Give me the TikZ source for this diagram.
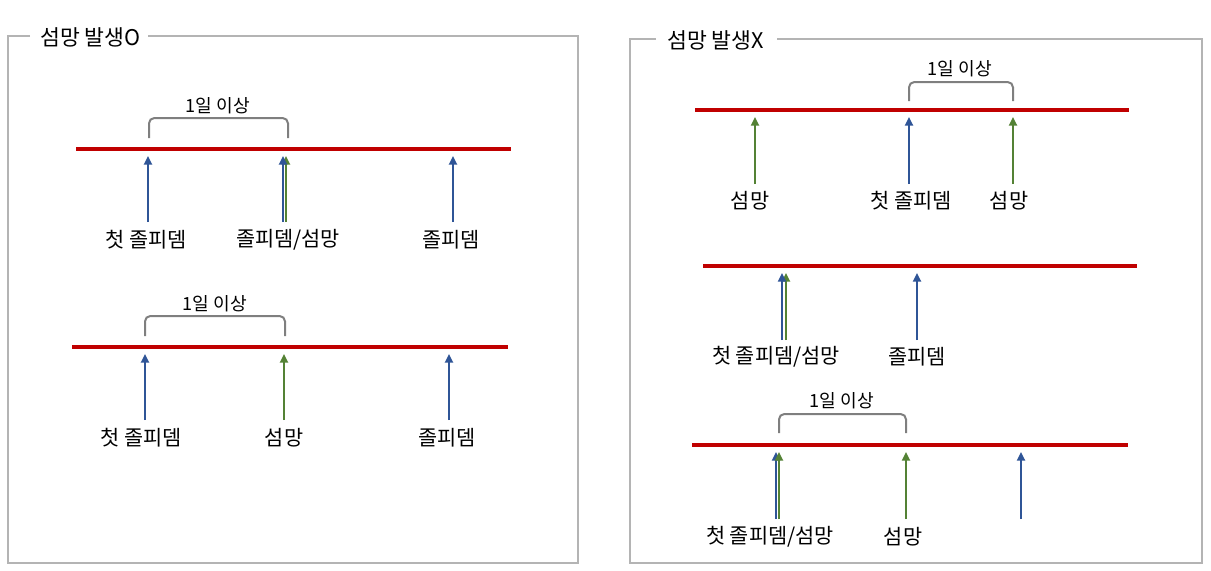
\documentclass[tikz,border=0pt]{standalone}
\usepackage{fontspec}
\setmainfont{Noto Sans CJK KR}
\usetikzlibrary{arrows.meta}
\definecolor{tlred}{HTML}{C00000}
\definecolor{zblue}{HTML}{2F5597}
\definecolor{dgreen}{HTML}{548235}
\definecolor{frm}{HTML}{B4B4B4}
\definecolor{brk}{HTML}{7F7F7F}
\tikzset{
  frameline/.style={draw=frm, line width=1.6pt},
  frametitle/.style={anchor=west, inner sep=0pt, font=\fontsize{16.2}{18}\selectfont},
  timeline/.style={draw=tlred, line width=2.7pt},
  zarrow/.style={draw=zblue, line width=1.6pt, -{Triangle[width=6pt,length=6.5pt]}},
  darrow/.style={draw=dgreen, line width=1.6pt, -{Triangle[width=6pt,length=6.5pt]}},
  bracketline/.style={draw=brk, line width=1.5pt, rounded corners=4pt},
  bracketlabel/.style={inner sep=0pt, font=\fontsize{13.6}{15}\selectfont},
  evlabel/.style={inner sep=0pt, font=\fontsize{15.6}{18}\selectfont},
}
\begin{document}
\begin{tikzpicture}[x=0.75pt,y=-0.75pt]
\useasboundingbox (0,0) rectangle (1211,571);
% ---------- left frame ----------
\coordinate (L1) at (30,36);
\coordinate (L2) at (8,36);
\coordinate (L3) at (8,563);
\coordinate (L4) at (578,563);
\coordinate (L5) at (578,36);
\coordinate (L6) at (148,36);
\draw[frameline] (L1) -- (L2) -- (L3) -- (L4) -- (L5) -- (L6);
\node[frametitle] (ltitle) at (40,37) {섬망 발생O};
% ---------- right frame ----------
\coordinate (R1) at (656,39);
\coordinate (R2) at (630,39);
\coordinate (R3) at (630,563);
\coordinate (R4) at (1202,563);
\coordinate (R5) at (1202,39);
\coordinate (R6) at (777,39);
\draw[frameline] (R1) -- (R2) -- (R3) -- (R4) -- (R5) -- (R6);
\node[frametitle] (rtitle) at (667,40) {섬망 발생X};

% ===== Left timeline 1 =====
\coordinate (a1s) at (76,149); \coordinate (a1e) at (511,149);
\draw[timeline] (a1s) -- (a1e);
\coordinate (a1b1) at (149,138); \coordinate (a1b2) at (149,118);
\coordinate (a1b3) at (288,118); \coordinate (a1b4) at (288,138);
\draw[bracketline] (a1b1) -- (a1b2) -- (a1b3) -- (a1b4);
\node[bracketlabel] (a1lab) at (218,106) {1일 이상};
\coordinate (a1t1) at (148,222); \coordinate (a1h1) at (148,156);
\coordinate (a1t2) at (283,222); \coordinate (a1h2) at (283,156);
\coordinate (a1t3) at (286,222); \coordinate (a1h3) at (286,156);
\coordinate (a1t4) at (453,222); \coordinate (a1h4) at (453,156);
\draw[zarrow] (a1t1) -- (a1h1);
\draw[darrow] (a1t3) -- (a1h3);
\draw[zarrow] (a1t2) -- (a1h2);
\draw[zarrow] (a1t4) -- (a1h4);
\node[evlabel] (a1n1) at (146,240) {첫 졸피뎀};
\node[evlabel] (a1n2) at (288,240) {졸피뎀/섬망};
\node[evlabel] (a1n3) at (451,240) {졸피뎀};

% ===== Left timeline 2 =====
\coordinate (a2s) at (72,347); \coordinate (a2e) at (508,347);
\draw[timeline] (a2s) -- (a2e);
\coordinate (a2b1) at (145,336); \coordinate (a2b2) at (145,316);
\coordinate (a2b3) at (285,316); \coordinate (a2b4) at (285,336);
\draw[bracketline] (a2b1) -- (a2b2) -- (a2b3) -- (a2b4);
\node[bracketlabel] (a2lab) at (215,304) {1일 이상};
\coordinate (a2t1) at (145,420); \coordinate (a2h1) at (145,354);
\coordinate (a2t2) at (284,420); \coordinate (a2h2) at (284,354);
\coordinate (a2t3) at (449,420); \coordinate (a2h3) at (449,354);
\draw[zarrow] (a2t1) -- (a2h1);
\draw[darrow] (a2t2) -- (a2h2);
\draw[zarrow] (a2t3) -- (a2h3);
\node[evlabel] (a2n1) at (141,438) {첫 졸피뎀};
\node[evlabel] (a2n2) at (284,438) {섬망};
\node[evlabel] (a2n3) at (447,438) {졸피뎀};

% ===== Right timeline 1 =====
\coordinate (b1s) at (695,110); \coordinate (b1e) at (1129,110);
\draw[timeline] (b1s) -- (b1e);
\coordinate (b1b1) at (909,101); \coordinate (b1b2) at (909,82);
\coordinate (b1b3) at (1013,82); \coordinate (b1b4) at (1013,101);
\draw[bracketline] (b1b1) -- (b1b2) -- (b1b3) -- (b1b4);
\node[bracketlabel] (b1lab) at (960,69) {1일 이상};
\coordinate (b1t1) at (755,184); \coordinate (b1h1) at (755,117);
\coordinate (b1t2) at (909,184); \coordinate (b1h2) at (909,117);
\coordinate (b1t3) at (1013,184); \coordinate (b1h3) at (1013,117);
\draw[darrow] (b1t1) -- (b1h1);
\draw[zarrow] (b1t2) -- (b1h2);
\draw[darrow] (b1t3) -- (b1h3);
\node[evlabel] (b1n1) at (750,201) {섬망};
\node[evlabel] (b1n2) at (911,201) {첫 졸피뎀};
\node[evlabel] (b1n3) at (1009,201) {섬망};

% ===== Right timeline 2 =====
\coordinate (b2s) at (703,266); \coordinate (b2e) at (1137,266);
\draw[timeline] (b2s) -- (b2e);
\coordinate (b2t1) at (782,340); \coordinate (b2h1) at (782,273);
\coordinate (b2t2) at (786,340); \coordinate (b2h2) at (786,273);
\coordinate (b2t3) at (917,340); \coordinate (b2h3) at (917,273);
\draw[darrow] (b2t2) -- (b2h2);
\draw[zarrow] (b2t1) -- (b2h1);
\draw[zarrow] (b2t3) -- (b2h3);
\node[evlabel] (b2n1) at (776,357) {첫 졸피뎀/섬망};
\node[evlabel] (b2n2) at (917,357) {졸피뎀};

% ===== Right timeline 3 =====
\coordinate (b3s) at (692,445); \coordinate (b3e) at (1128,445);
\draw[timeline] (b3s) -- (b3e);
\coordinate (b3b1) at (779,433); \coordinate (b3b2) at (779,414);
\coordinate (b3b3) at (906,414); \coordinate (b3b4) at (906,433);
\draw[bracketline] (b3b1) -- (b3b2) -- (b3b3) -- (b3b4);
\node[bracketlabel] (b3lab) at (842,401) {1일 이상};
\coordinate (b3t1) at (776,519); \coordinate (b3h1) at (776,452);
\coordinate (b3t2) at (779,519); \coordinate (b3h2) at (779,452);
\coordinate (b3t3) at (906,519); \coordinate (b3h3) at (906,452);
\coordinate (b3t4) at (1021,519); \coordinate (b3h4) at (1021,452);
\draw[zarrow] (b3t1) -- (b3h1);
\draw[darrow] (b3t2) -- (b3h2);
\draw[darrow] (b3t3) -- (b3h3);
\draw[zarrow] (b3t4) -- (b3h4);
\node[evlabel] (b3n1) at (770,537) {첫 졸피뎀/섬망};
\node[evlabel] (b3n2) at (903,537) {섬망};
\end{tikzpicture}
\end{document}
